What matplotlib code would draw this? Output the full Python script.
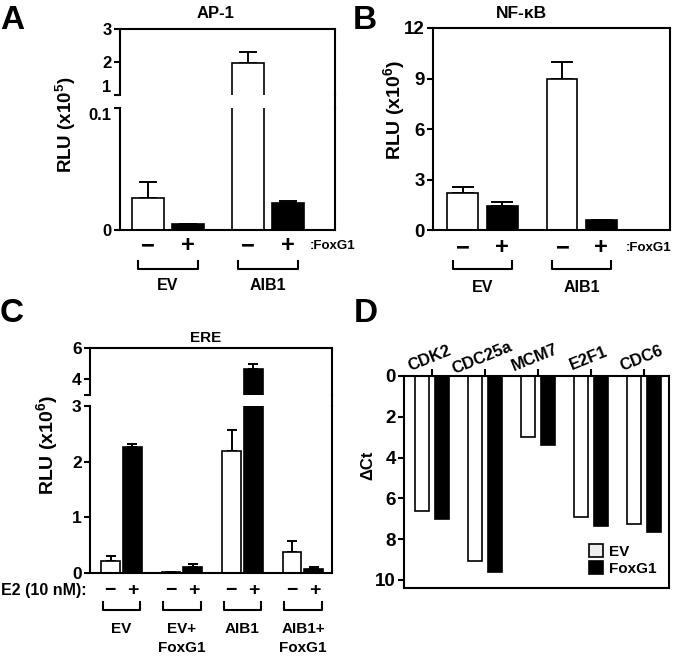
import numpy as np
import matplotlib
matplotlib.use("Agg")
import matplotlib.pyplot as plt
from matplotlib.transforms import blended_transform_factory

plt.rcParams["font.family"] = ["Liberation Sans", "DejaVu Sans"]
plt.rcParams["font.weight"] = "bold"
plt.rcParams["mathtext.default"] = "regular"

# ---- data ----
# A: AP-1 (x10^5), order: EV-, EV+, AIB1-, AIB1+
ap1_mean = [0.026, 0.005, 1.97, 0.022]
ap1_err = [0.013, 0.0, 0.34, 0.002]
# B: NF-kB (x10^6)
nfkb_mean = [2.2, 1.4, 9.0, 0.62]
nfkb_err = [0.35, 0.25, 1.0, 0.0]
ab_groups = ["EV", "AIB1"]

# C: ERE (x10^6), E2 -/+ for each group
ere_groups = ["EV", "EV+\nFoxG1", "AIB1", "AIB1+\nFoxG1"]
ere_minus = [0.22, 0.01, 2.19, 0.37]
ere_minus_err = [0.08, 0.0, 0.37, 0.2]
ere_plus = [2.26, 0.11, 4.62, 0.08]
ere_plus_err = [0.05, 0.05, 0.36, 0.02]

# D: delta Ct
genes = ["CDK2", "CDC25a", "MCM7", "E2F1", "CDC6"]
dct_ev = [6.6, 9.07, 3.0, 6.9, 7.25]
dct_fox = [7.0, 9.62, 3.4, 7.38, 7.66]

W, H = 676, 659
fig = plt.figure(figsize=(W / 100, H / 100), dpi=100)
LW = 1.5


def px_axes(l, t, r, b):
    return fig.add_axes([l / W, 1 - b / H, (r - l) / W, (b - t) / H])


def ftext(x, y, s, **kw):
    fig.text(x / W, 1 - y / H, s, **kw)


def style(ax, size=12.5):
    for sp in ax.spines.values():
        sp.set_linewidth(LW)
    ax.tick_params(axis="y", direction="out", length=4, width=LW, labelsize=size, pad=2)
    ax.tick_params(axis="x", bottom=False, labelbottom=False)


def bars(ax, x, mean, err, color, width, cap):
    ax.bar(x, mean, width, color=color, edgecolor="black", linewidth=1.2, zorder=2)
    ax.errorbar(x, mean, yerr=[np.zeros(len(mean)), err], fmt="none",
                ecolor="black", elinewidth=1.4, capsize=cap, capthick=1.4, zorder=1)


def pm_row(ax, centers, off, y, brk_top, brk_bot, half, fs):
    tr = blended_transform_factory(ax.transData, fig.transFigure)
    for c in centers:
        ax.text(c - off, 1 - y / H, "\u2212", transform=tr, ha="center", va="center", fontsize=fs)
        ax.text(c + off, 1 - y / H, "+", transform=tr, ha="center", va="center", fontsize=fs)
        ax.plot([c - half, c - half, c + half, c + half],
                [1 - brk_top / H, 1 - brk_bot / H, 1 - brk_bot / H, 1 - brk_top / H],
                transform=tr, color="black", lw=LW, clip_on=False)


def broken(ax_top, ax_bot, gap_px, bot_h_px):
    ax_top.spines["bottom"].set_visible(False)
    ax_bot.spines["top"].set_visible(False)
    ax_bot.plot([1, 1], [1, 1 + gap_px / bot_h_px], transform=ax_bot.transAxes,
                color="black", lw=LW, clip_on=False)


# ---------------- Panel A ----------------
xa = np.arange(len(ab_groups))
pos_a = np.ravel([[g - 0.2, g + 0.2] for g in xa])
cols = ["white", "black"] * len(ab_groups)
axA1 = px_axes(120, 29, 335, 95)
axA2 = px_axes(120, 108, 335, 230)
for ax in (axA1, axA2):
    style(ax, 12)
    bars(ax, pos_a, ap1_mean, ap1_err, cols, 0.32, 6.5)
    ax.set_xlim(-0.48, 1.67)
axA1.set_ylim(1, 3)
axA1.set_yticks([1, 2, 3])
axA2.set_ylim(0, 0.1)
axA2.set_yticks([0, 0.1])
axA2.set_yticklabels(["0", "0.1"])
axA1.get_yticklabels()[0].set_va("bottom")
axA2.get_yticklabels()[-1].set_va("top")
broken(axA1, axA2, 13, 122)
pm_row(axA2, xa, 0.2, 246, 261, 269, 0.3, 17)
trA = blended_transform_factory(axA2.transData, fig.transFigure)
for g, name in zip(xa, ab_groups):
    axA2.text(g, 1 - 286 / H, name, transform=trA, ha="center", va="center", fontsize=11.5)
ftext(310, 246, ":FoxG1", ha="left", va="center", fontsize=9.5)
ftext(216, 14, "AP-1", ha="center", va="center", fontsize=12)
ftext(66, 125, "RLU (x10$^{5}$)", ha="center", va="center", rotation=90, fontsize=13.5)
ftext(0, 29, "A", ha="left", va="baseline", fontsize=24)

# ---------------- Panel B ----------------
axB = px_axes(433, 28, 670, 230)
style(axB, 13.5)
bars(axB, pos_a, nfkb_mean, nfkb_err, cols, 0.31, 8)
axB.set_xlim(-0.5, 1.89)
axB.set_ylim(0, 12)
axB.set_yticks([0, 3, 6, 9, 12])
pm_row(axB, xa, 0.195, 248, 261, 269, 0.3, 17)
trB = blended_transform_factory(axB.transData, fig.transFigure)
for g, name in zip(xa, ab_groups):
    axB.text(g, 1 - 287 / H, name, transform=trB, ha="center", va="center", fontsize=11.5)
ftext(626, 248, ":FoxG1", ha="left", va="center", fontsize=9.5)
ftext(521, 14, "NF-\u03baB", ha="center", va="center", fontsize=12.5)
ftext(394, 110, "RLU (x10$^{6}$)", ha="center", va="center", rotation=90, fontsize=14)
ftext(353, 29, "B", ha="left", va="baseline", fontsize=24)

# ---------------- Panel C ----------------
xc = np.arange(len(ere_groups))
axC1 = px_axes(90, 348, 332, 394.5)
axC2 = px_axes(90, 406, 332, 573)
for ax in (axC1, axC2):
    style(ax)
    bars(ax, xc - 0.18, ere_minus, ere_minus_err, "white", 0.31, 3.5)
    bars(ax, xc + 0.18, ere_plus, ere_plus_err, "black", 0.31, 3.5)
    ax.set_xlim(-0.52, 3.48)
axC1.set_ylim(3, 6)
axC1.set_yticks([3, 4, 6])
axC1.set_yticklabels(["", "4", "6"])
axC2.set_ylim(0, 3)
axC2.set_yticks([0, 1, 2, 3])
broken(axC1, axC2, 11.5, 167)
pm_row(axC2, xc, 0.19, 591, 602, 610, 0.31, 14)
trC = blended_transform_factory(axC2.transData, fig.transFigure)
for g, name in zip(xc, ere_groups):
    axC2.text(g, 1 - 622 / H, name, transform=trC, ha="center", va="top",
              fontsize=11, linespacing=1.45)
ftext(1, 591, "E2 (10 nM):", ha="left", va="center", fontsize=11.5)
ftext(206, 338, "ERE", ha="center", va="center", fontsize=11)
ftext(47, 445, "RLU (x10$^{6}$)", ha="center", va="center", rotation=90, fontsize=14)
ftext(0, 322, "C", ha="left", va="baseline", fontsize=24)

# ---------------- Panel D ----------------
xd = np.arange(len(genes))
axD = px_axes(404, 376, 669, 588)
style(axD, 13.5)
axD.bar(xd - 0.19, dct_ev, 0.27, color="white", edgecolor="black", linewidth=1.2, label="EV")
axD.bar(xd + 0.19, dct_fox, 0.27, color="black", edgecolor="black", linewidth=1.2, label="FoxG1")
axD.set_xlim(-0.53, 4.47)
axD.set_ylim(10.4, 0)
axD.set_yticks([0, 2, 4, 6, 8, 10])
axD.xaxis.tick_top()
axD.set_xticks(xd)
axD.tick_params(axis="x", top=True, bottom=False, labeltop=True, labelbottom=False,
                direction="out", length=5, width=LW, labelsize=12, pad=3)
axD.set_xticklabels(genes, rotation=22, ha="center", rotation_mode="anchor")
for lbl in axD.get_xticklabels():
    lbl.set_va("bottom")
leg = axD.legend(loc="lower right", frameon=False, fontsize=11, handlelength=0.9,
                 handleheight=0.9, handletextpad=0.4, labelspacing=0.15,
                 borderaxespad=0.4)
leg.get_patches()[0].set_facecolor("#eeeeee")
ftext(368, 465, "\u0394Ct", ha="center", va="center", rotation=90, fontsize=12)
ftext(354, 322, "D", ha="left", va="baseline", fontsize=24)

fig.savefig("out.png", dpi=100)
